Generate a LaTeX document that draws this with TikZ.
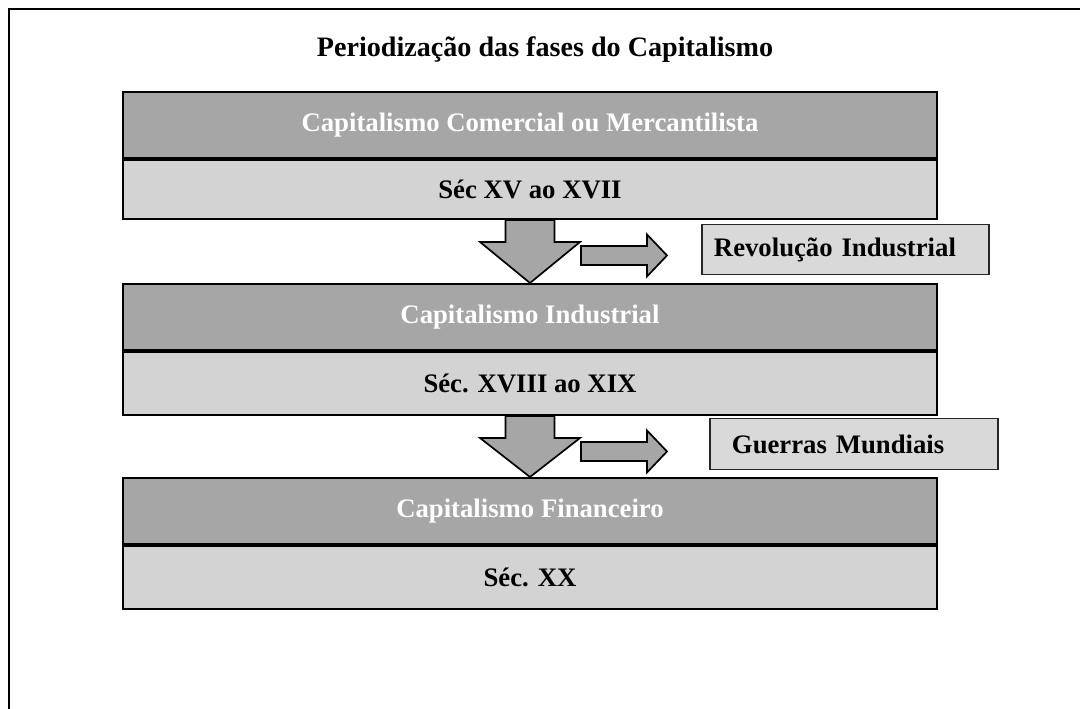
\documentclass[tikz,border=0pt]{standalone}
\usepackage{fontspec}
\setmainfont{Liberation Serif}
\usepackage{tikz}
\usetikzlibrary{
  positioning,
  calc
}
\definecolor{banddark}{RGB}{166,166,166}
\definecolor{bandlight}{RGB}{211,211,211}
\definecolor{sidefill}{RGB}{217,217,217}

\tikzset{
  darkband/.style={draw=black, line width=1.4pt, fill=banddark, text=white,
    minimum width=20.35cm, minimum height=1.65cm, inner sep=0pt,
    font=\fontsize{19}{22}\selectfont\bfseries},
  lightband/.style={draw=black, line width=1.4pt, fill=bandlight, text=black,
    minimum width=20.35cm, minimum height=1.575cm, inner sep=0pt,
    font=\fontsize{19}{22}\selectfont\bfseries},
  sidebox/.style={draw=black!85, line width=0.8pt, fill=sidefill, align=left,
    minimum height=1.27cm, inner ysep=0pt,
    font=\fontsize{19}{22}\selectfont\bfseries},
  blockarrow/.style={draw=black, line width=1.2pt, fill=banddark, line join=miter}
}

\begin{document}
\begin{tikzpicture}[x=0.025cm, y=-0.025cm]

	    \useasboundingbox (0,0) rectangle (1080,709);

	    % frame
	    \draw[line width=1.6pt] (9,740) -- (9,9) -- (1100,9);

	    % title
	    \node[font=\fontsize{20}{24}\selectfont\bfseries] (title) at (545,50)
	        {Periodização das fases do Capitalismo};

	    % phases
	    \node[darkband] (cap1) at (530,125) {Capitalismo Comercial ou Mercantilista};
	    \node[lightband, minimum height=1.475cm, below=0pt of cap1] (sec1) {Séc XV ao XVII};

	    \node[darkband] (cap2) at (530,317) {Capitalismo Industrial};
	    \node[lightband, below=0pt of cap2] (sec2) {Séc. XVIII ao XIX};

	    \node[darkband] (cap3) at (530,511) {Capitalismo Financeiro};
	    \node[lightband, below=0pt of cap3] (sec3) {Séc. XX};

	    % events
	    \node[sidebox, inner xsep=0.3cm, text width=6.575cm] (rev) at (845.5,249.5)
	        {Revolução Industrial};
	    \node[sidebox, inner xsep=0.55cm, text width=6.1cm] (war) at (854,444)
	        {Guerras Mundiais};

	    % arrows
	    \foreach \from/\to/\side in {sec1/cap2/rev, sec2/cap3/war} {
	        \coordinate (h) at ($(\from.south)+(0,22)$);
	        \draw[blockarrow]
	            ($(\from.south)+(-24.5,0)$) -- ($(h)+(-24.5,0)$) -- ($(h)+(-50,0)$)
	            -- (\to.north)
	            -- ($(h)+(50,0)$) -- ($(h)+(24.5,0)$) -- ($(\from.south)+(24.5,0)$) -- cycle;
	        \coordinate (s) at ($(h)+(51,13.5)$);
	        \draw[blockarrow]
	            ($(s)+(0,-9.5)$) -- ($(s)+(66,-9.5)$) -- ($(s)+(66,-21)$)
	            -- ($(s)+(86,0)$)
	            -- ($(s)+(66,21)$) -- ($(s)+(66,9.5)$) -- ($(s)+(0,9.5)$) -- cycle;
	    }

	\end{tikzpicture}
\end{document}
